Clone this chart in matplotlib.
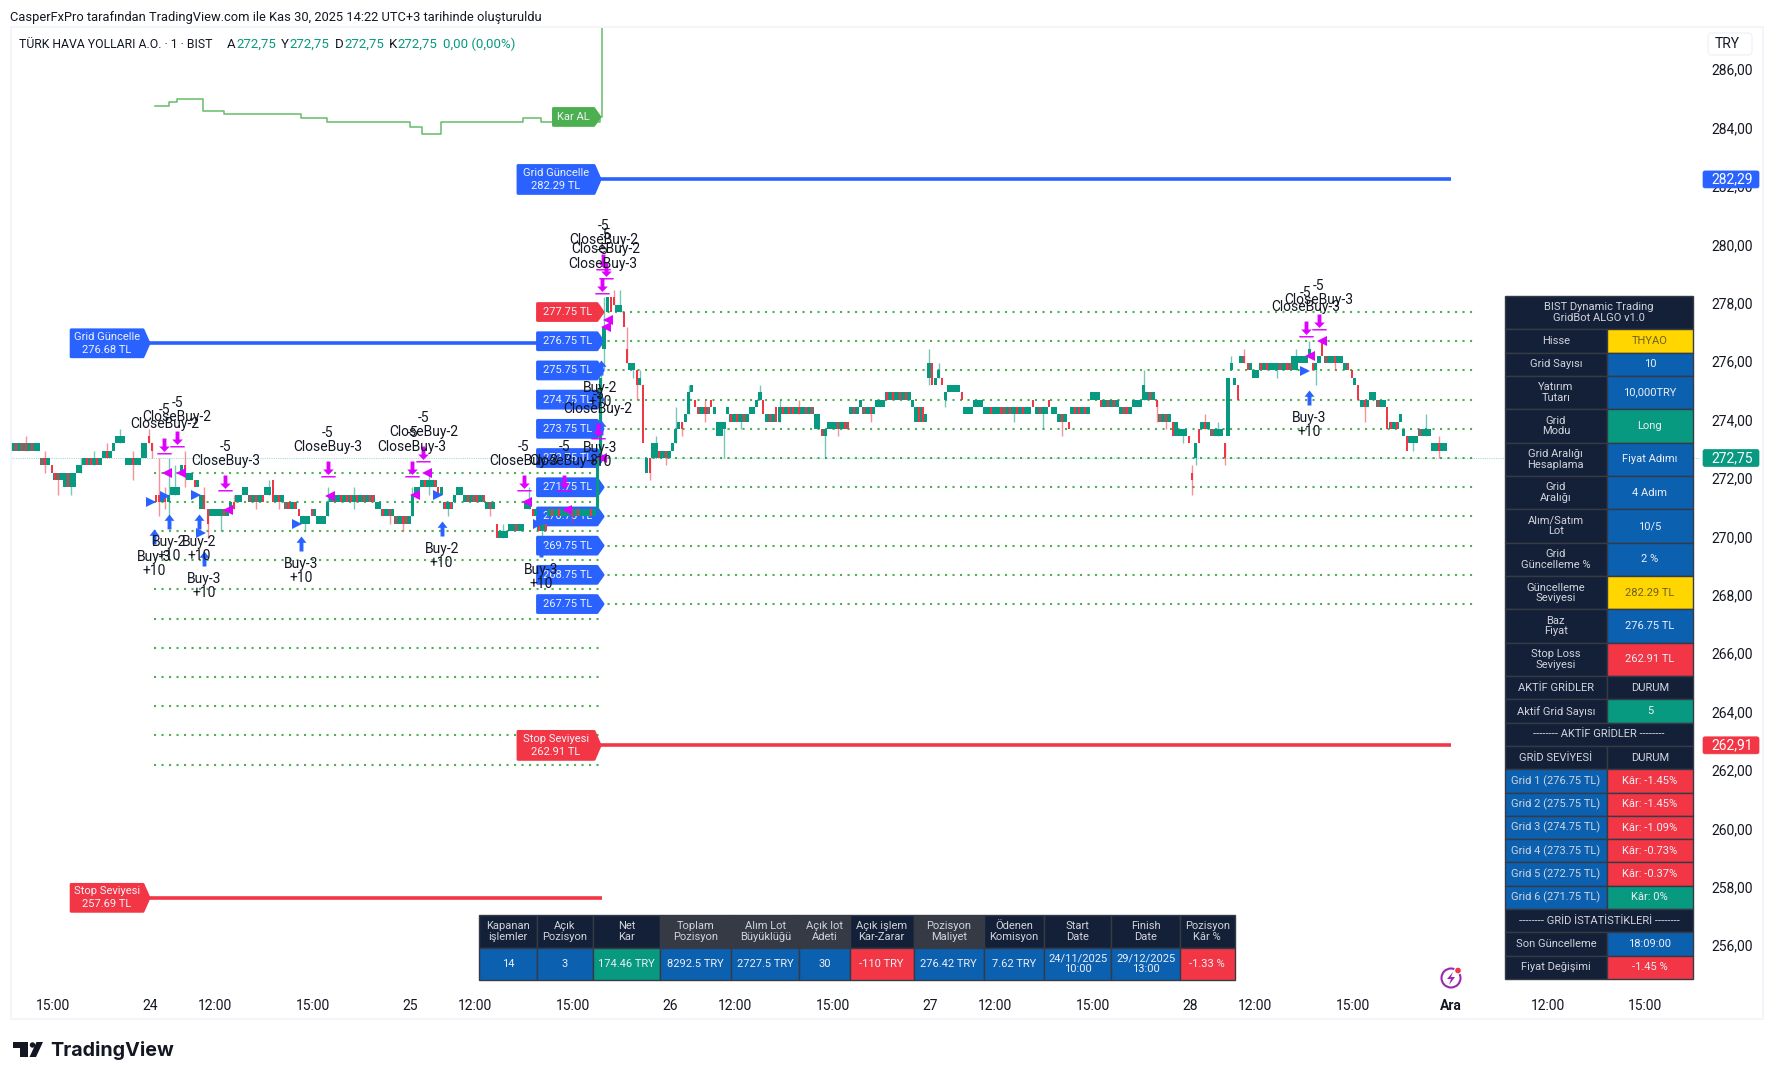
import matplotlib
matplotlib.use("Agg")
import matplotlib.pyplot as plt
import numpy as np
from matplotlib.path import Path
from matplotlib.patches import Polygon, Rectangle, Circle, FancyBboxPatch
from matplotlib.transforms import offset_copy

plt.rcParams['font.family'] = ['Roboto', 'DejaVu Sans']

GREEN = "#089981"
RED = "#F23645"
BLUE = "#2962FF"
MAGENTA = "#E000FF"
LINE_GREEN = "#4CAF50"
NAVY = "#132038"
CELL_BLUE = "#0B60B0"
YELLOW = "#FFD600"
GREY = "#363A45"
TEXT = "#131722"

# candles, as runs of 6 minute bars
run_dirs = ["grgrrgrgg","rrg","r","rrg","grgg","gg","grrgrg","grg","g","ggg",
	"ggrgg","gg","r","r","rr","gr","g","ggg","gr","gg",
	"rg","gr","r","ggggrg","gr","gg","gg","rgrgr","gg","r",
	"grg","rrgr","r","ggg","rg","ggg","g","grgrgrrgrgrgrr","gg","rgrg",
	"rgrrg","g","gg","grggr","rg","rgr","g","gg","grgrrgr","grg",
	"r","ggg","ggrgg","gg","rg","rgr","grgrgggrgrgggrg","g","g","g",
	"gr","r","gg","r","r","gg","r","g","r","gr",
	"gg","rgrg","g","g","gr","g","g","g","r","rgrr",
	"r","g","gg","g","g","rgrgrg","gg","g","g","r",
	"grg","rg","rgrrgrgrgr","gg","rg","gggrgrr","grg","g","rgrg","ggg",
	"rgrgrgrg","g","grr","g","g","r","g","g","r","g",
	"gggg","r","ggg","ggg","ggrg","grrgrgrgrgg","r","grgg","r","gg",
	"grg","r","grrgrg","ggg","rgrgrg","grrg","ggg","g","grg","r",
	"rgrg","rg","ggg","r","r","g","r","grg","rggg","r",
	"g","g","g","r","gr","rg","gg","rgrgggrgrr","gg","ggg",
	"g","rg","g","r","rggrgg","gr","r","g","r","grg",
	"gg","rgg","r","rgr","g","g","r","ggg","rggg","ggrgg"]
run_low = [273.0,272.5,272.25,272.0,271.75,272.25,272.5,272.75,273.0,273.25,
	272.5,272.75,273.25,273.0,271.25,271.25,271.25,271.5,272.25,272.0,
	271.75,271.0,270.5,270.75,271.0,271.25,271.5,271.25,271.5,271.25,
	271.25,271.0,270.75,270.5,270.75,270.5,270.75,271.25,271.0,270.75,
	270.5,270.75,271.5,271.75,271.5,271.0,271.25,271.5,271.25,271.0,
	270.0,270.0,270.25,271.0,270.75,270.25,270.75,271.0,272.75,276.5,
	277.75,278.0,277.75,277.25,276.0,275.75,275.25,275.25,273.25,272.25,
	272.75,272.75,273.0,273.25,273.75,274.0,274.25,275.0,274.5,274.25,
	274.5,274.25,273.5,273.75,274.25,274.0,274.25,274.5,274.75,274.25,
	274.0,274.0,274.25,273.75,273.5,273.75,274.25,274.5,274.25,274.5,
	274.75,274.5,274.0,274.0,275.5,275.25,275.25,275.5,275.25,274.75,
	275.0,274.75,274.25,274.5,274.25,274.25,274.5,274.25,274.5,274.25,
	274.0,273.75,274.25,274.75,274.5,274.25,274.5,274.75,274.75,274.5,
	274.0,273.5,273.5,273.25,272.0,272.75,273.25,273.75,273.5,272.75,
	273.5,275.75,275.25,274.75,276.0,275.75,275.5,275.75,275.75,276.0,
	276.25,275.75,276.0,276.25,276.0,275.75,275.5,275.25,274.75,274.5,
	274.75,274.5,273.75,273.75,274.0,273.5,273.0,273.25,273.5,273.0]
run_high = [273.25,272.75,272.5,272.25,272.25,272.5,272.75,273.0,273.25,273.5,
	272.75,273.25,273.5,273.25,271.5,271.5,271.5,271.75,272.5,272.25,
	272.0,271.5,271.0,271.0,271.25,271.5,271.75,271.5,271.75,272.0,
	271.5,271.25,271.0,270.75,271.0,270.75,271.25,271.5,271.25,271.0,
	270.75,271.5,271.75,272.0,271.75,271.25,271.5,271.75,271.5,271.25,
	270.5,270.25,270.5,271.25,271.0,270.5,271.0,272.75,275.5,277.25,
	278.25,278.25,278.0,277.75,276.5,276.0,275.75,275.5,275.25,272.75,
	273.25,273.0,273.25,273.75,274.0,274.25,275.0,275.25,274.75,274.5,
	274.75,274.5,274.0,274.0,274.5,274.25,274.5,274.75,275.0,274.75,
	274.25,274.5,274.5,274.25,273.75,274.0,274.5,274.75,274.5,274.75,
	275.0,274.75,274.5,274.25,276.0,276.0,275.5,275.75,275.5,275.0,
	275.25,275.0,274.5,274.75,274.5,274.5,274.75,274.5,274.75,274.5,
	274.25,274.0,274.5,275.0,274.75,274.5,274.75,275.25,275.0,274.75,
	274.25,274.0,273.75,273.5,272.25,273.25,273.75,274.0,273.75,273.25,
	275.5,276.0,275.5,275.25,276.25,276.0,275.75,276.0,276.25,276.25,
	276.5,276.0,276.25,276.75,276.25,276.0,275.75,275.5,275.25,274.75,
	275.0,274.75,274.5,274.0,274.25,273.75,273.5,273.5,273.75,273.25]
run_wick_low = [273.0,272.25,272.25,271.5,271.5,272.25,272.5,272.75,273.0,273.25,
	272.0,272.75,273.25,272.75,270.75,271.0,270.75,271.5,271.75,272.0,
	271.75,271.0,270.0,270.25,271.0,271.25,271.5,271.0,271.5,271.25,
	271.0,271.0,270.75,270.25,270.75,270.5,270.75,271.0,271.0,270.5,
	270.25,270.75,271.5,271.5,271.5,270.75,271.25,271.5,271.25,270.75,
	270.0,270.0,270.25,271.0,270.75,270.0,270.5,270.75,272.75,275.75,
	277.75,278.0,277.75,277.25,276.0,275.5,274.75,275.25,273.25,272.0,
	272.75,272.5,273.0,273.25,273.5,274.0,274.25,275.0,274.5,274.0,
	274.5,274.25,273.5,272.75,274.25,273.75,274.25,274.5,274.75,274.25,
	274.0,274.0,274.25,273.75,272.75,273.5,274.25,274.5,274.0,274.5,
	274.75,274.5,274.0,274.0,275.25,275.25,275.25,275.5,275.25,274.5,
	275.0,274.75,274.25,274.5,274.25,274.0,274.5,273.75,274.5,274.25,
	273.5,273.75,274.25,274.75,274.5,274.25,274.5,274.75,274.75,274.0,
	273.75,273.5,273.25,273.25,271.5,272.5,273.25,273.75,273.5,272.5,
	273.5,275.75,275.25,274.75,276.0,275.75,275.5,275.5,275.75,276.0,
	276.25,275.25,276.0,276.25,275.75,275.75,275.5,275.25,274.75,274.0,
	274.75,274.5,273.75,273.75,274.0,273.5,273.0,273.0,273.5,272.75]
run_wick_high = [273.5,273.0,272.5,272.25,272.25,272.75,273.0,273.25,273.25,273.75,
	273.0,273.25,273.75,273.25,272.75,271.75,272.75,272.5,273.0,272.25,
	272.0,271.75,271.0,271.0,271.5,271.5,271.75,271.5,272.0,272.0,
	271.5,271.25,271.0,270.75,271.0,270.75,271.75,271.75,271.25,271.0,
	270.75,271.75,271.75,272.25,271.75,271.25,271.5,271.75,271.5,271.25,
	270.5,270.5,270.5,271.75,271.0,270.5,271.0,272.75,275.75,278.25,
	278.25,278.5,278.5,277.75,277.25,276.0,275.75,275.75,275.25,272.75,
	273.5,273.0,273.25,274.5,274.0,274.25,275.25,275.25,274.75,274.75,
	274.75,274.5,274.0,274.0,274.5,274.25,274.5,274.75,275.25,274.75,
	274.25,274.75,274.75,274.25,273.75,274.0,274.5,274.75,274.5,274.75,
	275.0,274.75,274.5,274.25,276.5,276.0,275.5,276.0,275.5,275.0,
	275.25,275.0,274.5,274.75,274.5,274.5,274.75,274.5,274.75,274.5,
	274.25,274.0,274.5,275.0,274.75,274.5,274.75,275.75,275.0,274.75,
	274.25,274.0,273.75,273.5,272.5,273.25,273.75,274.25,274.0,273.25,
	275.5,276.25,275.5,275.25,276.5,276.0,275.75,276.0,276.5,276.25,
	276.75,276.0,276.25,276.75,276.25,276.0,275.75,275.5,275.25,274.75,
	275.0,274.75,274.5,274.0,274.25,273.75,273.5,273.5,274.25,273.5]

first_bar_hour = -4.24
last_price = 272.75

left_grid_levels = [272.25,271.25,270.25,269.25,268.25,267.25,266.25,265.25,264.25,263.25,262.25]
right_grid_levels = [277.75,276.75,275.75,274.75,273.75,272.75,271.75,270.75,269.75,268.75,267.75]

kar_hours = [0.15,0.58,0.81,1.63,2.28,4.62,5.44,8.0,8.37,8.95,11.47,12.01,13.83,13.9]
kar_levels = [284.79,284.95,285.04,284.62,284.52,284.38,284.26,284.10,283.86,284.26,284.38,284.26,284.43,287.6]

buy_hours = [0.12,0.58,1.49,1.66,4.64,8.96,12.01,13.85,13.85,35.65]
buy_prices = [270.32,270.83,270.83,269.58,270.09,270.58,269.86,276.10,274.04,275.09]
buy_labels = ["Buy-3","Buy-2","Buy-2","Buy-3","Buy-3","Buy-2","Buy-3","Buy-2","Buy-3","Buy-3"]

close_hours = [0.43,0.82,2.31,5.45,8.05,8.40,11.49,12.73,13.78,14.01,13.91,13.94,35.55,35.95]
close_prices = [272.89,273.14,271.63,272.09,272.09,272.62,271.63,271.61,273.40,278.87,278.36,279.2,276.90,277.13]
close_labels = ["CloseBuy-2","CloseBuy-2","CloseBuy-3","CloseBuy-3","CloseBuy-3","CloseBuy-2","CloseBuy-3",
	"CloseBuy-3","CloseBuy-2","CloseBuy-2","CloseBuy-3","CloseBuy-2","CloseBuy-3","CloseBuy-3"]

entry_hours = [0.03,0.46,1.39,1.55,4.52,8.84,11.92,13.80,35.52]
entry_prices = [271.23,271.46,271.48,270.20,270.49,271.48,270.49,276.75,275.73]
exit_hours = [0.51,0.94,2.40,5.54,8.15,8.51,11.58,12.83,13.89,14.09,14.02,35.68,36.04]
exit_prices = [272.24,272.24,270.98,271.46,271.48,272.24,271.23,270.98,272.75,277.49,277.24,276.24,276.75]

tick_hours = [-3,0,2,5,8,10,13,16,18,21,24,26,29,32,34,37,40,43,46]
tick_labels = ["15:00","24","12:00","15:00","25","12:00","15:00","26","12:00","15:00",
	"27","12:00","15:00","28","12:00","15:00","Ara","12:00","15:00"]
price_ticks = [256,258,260,262,264,266,268,270,272,274,276,278,280,282,284,286]

side_labels = ["BIST Dynamic Trading\nGridBot ALGO v1.0","Hisse","Grid Sayısı","Yatırım\nTutarı","Grid\nModu",
	"Grid Aralığı\nHesaplama","Grid\nAralığı","Alım/Satım\nLot","Grid\nGüncelleme %","Güncelleme\nSeviyesi",
	"Baz\nFiyat","Stop Loss\nSeviyesi","AKTİF GRİDLER","Aktif Grid Sayısı","-------- AKTİF GRİDLER --------",
	"GRİD SEVİYESİ","Grid 1 (276.75 TL)","Grid 2 (275.75 TL)","Grid 3 (274.75 TL)","Grid 4 (273.75 TL)",
	"Grid 5 (272.75 TL)","Grid 6 (271.75 TL)","-------- GRİD İSTATİSTİKLERİ --------","Son Güncelleme","Fiyat Değişimi"]
side_values = ["","THYAO","10","10,000TRY","Long","Fiyat Adımı","4 Adım","10/5","2 %","282.29 TL",
	"276.75 TL","262.91 TL","DURUM","5","","DURUM","Kâr: -1.45%","Kâr: -1.45%","Kâr: -1.09%","Kâr: -0.73%",
	"Kâr: -0.37%","Kâr: 0%","","18:09:00","-1.45 %"]
side_colors = [NAVY,YELLOW,CELL_BLUE,CELL_BLUE,GREEN,CELL_BLUE,CELL_BLUE,CELL_BLUE,CELL_BLUE,YELLOW,
	CELL_BLUE,RED,NAVY,GREEN,NAVY,NAVY,RED,RED,RED,RED,RED,GREEN,NAVY,CELL_BLUE,RED]

stat_headers = ["Kapanan\nişlemler","Açık\nPozisyon","Net\nKar","Toplam\nPozisyon","Alım Lot\nBüyüklüğü","Açık lot\nAdeti",
	"Açık işlem\nKar-Zarar","Pozisyon\nMaliyet","Ödenen\nKomisyon","Start\nDate","Finish\nDate","Pozisyon\nKâr %"]
stat_values = ["14","3","174.46 TRY","8292.5 TRY","2727.5 TRY","30","-110 TRY","276.42 TRY","7.62 TRY",
	"24/11/2025\n10:00","29/12/2025\n13:00","-1.33 %"]
stat_header_colors = [NAVY,NAVY,NAVY,GREY,GREY,GREY,NAVY,GREY,NAVY,NAVY,NAVY,NAVY]
stat_colors = [CELL_BLUE,CELL_BLUE,GREEN,CELL_BLUE,CELL_BLUE,CELL_BLUE,RED,CELL_BLUE,CELL_BLUE,CELL_BLUE,CELL_BLUE,RED]
stat_edges = [479,536.7,592.9,660.5,731.2,799.4,849.6,913.8,983.9,1044.1,1111.3,1180,1234.7]

fig = plt.figure(figsize=(17.74, 10.8), dpi=100, facecolor="white")
ax = fig.add_axes([11/1774, 1-991/1080, 1689/1774, 963/1080])
ax.set_xlim(-4.289, 47.68)
ax.set_ylim(254.50, 287.476)
for s in ax.spines.values():
	s.set_visible(False)
ax.yaxis.tick_right()
ax.set_yticks(price_ticks)
ax.set_yticklabels(["%d,00" % p for p in price_ticks])
ax.set_xticks(tick_hours)
ax.set_xticklabels(tick_labels)
ax.tick_params(axis="both", length=0, labelsize=10, colors=TEXT)
ax.tick_params(axis="x", pad=5.5)
ax.tick_params(axis="y", pad=8)
for t in ax.get_xticklabels():
	if t.get_text() == "Ara":
		t.set_fontweight("bold")
for t in ax.get_yticklabels():
	t.set_transform(offset_copy(t.get_transform(), fig=fig, x=0, y=2, units="dots"))

# grids
ax.hlines(left_grid_levels, 0.11, 13.83, colors=LINE_GREEN, linewidth=1.5, linestyles=(0, (1, 2.6)), zorder=1)
ax.hlines(right_grid_levels, 13.84, 40.81, colors=LINE_GREEN, linewidth=1.5, linestyles=(0, (1, 2.6)), zorder=1)
ax.axhline(last_price, color=GREEN, linewidth=0.8, linestyle=(0, (1, 1)), alpha=0.35, zorder=1)

def tag(left, tip, price, height, text, color, size=8):
	body = tip - 6/32.5
	half = height/2/29.2
	poly = Polygon([(left, price-half), (left, price+half), (body, price+half), (tip, price), (body, price-half)],
		closed=True, facecolor=color, edgecolor=color, linewidth=2, joinstyle="round", zorder=2)
	ax.add_patch(poly)
	ax.text((left+body)/2, price, text, color="#F0F3FA", fontsize=size, ha="center", va="center",
		linespacing=1.35, zorder=2.5)

# big level lines
ax.hlines(276.68, -0.04, 13.9, colors=BLUE, linewidth=2.6, zorder=1.5)
ax.hlines(257.69, -0.04, 13.9, colors=RED, linewidth=2.6, zorder=1.5)
ax.hlines(282.29, 13.84, 40.02, colors=BLUE, linewidth=2.6, zorder=1.5)
ax.hlines(262.91, 13.84, 40.02, colors=RED, linewidth=2.6, zorder=1.5)
tag(-2.44, -0.04, 276.68, 27, "Grid Güncelle\n276.68 TL", BLUE)
tag(-2.44, -0.04, 257.69, 27, "Stop Seviyesi\n257.69 TL", RED)
tag(11.31, 13.84, 282.29, 28, "Grid Güncelle\n282.29 TL", BLUE)
tag(11.31, 13.84, 262.91, 28, "Stop Seviyesi\n262.91 TL", RED)
tag(12.4, 13.83, 284.43, 17, "Kar AL", LINE_GREEN)
for i, lvl in enumerate(right_grid_levels):
	tag(11.91, 13.93, lvl, 17, "%.2f TL" % lvl, RED if i == 0 else BLUE)

ax.plot(kar_hours, kar_levels, drawstyle="steps-post", color=LINE_GREEN, linewidth=1.1, alpha=0.85, zorder=2.2)

# candles
bar_low, bar_high, bar_dirs, bar_block = [], [], [], []
wick_x, wick_low, wick_high, wick_dirs = [], [], [], []
for dirs, lo, hi, wl, wh in zip(run_dirs, run_low, run_high, run_wick_low, run_wick_high):
	start = len(bar_low)
	for d in dirs:
		bar_low.append(lo)
		bar_high.append(hi)
		bar_dirs.append(d)
		bar_block.append(len(dirs) >= 3)
	if wl < lo or wh > hi:
		wick_x.append(first_bar_hour + 0.1*(start + len(dirs)//2))
		wick_low.append(wl)
		wick_high.append(wh)
		wick_dirs.append(dirs[len(dirs)//2])
bar_hours = first_bar_hour + 0.1*np.arange(len(bar_low))
bar_low = np.array(bar_low)
bar_high = np.array(bar_high)
bar_block = np.array(bar_block)
is_up = np.array([d == "g" for d in bar_dirs])
wick_colors = [GREEN if d == "g" else RED for d in wick_dirs]
ax.vlines(wick_x, wick_low, wick_high, colors=wick_colors, linewidth=1.0, alpha=0.55, zorder=3)
# inside a flat block the red bars are thin streaks over the green
ax.bar(bar_hours[bar_block], (bar_high-bar_low)[bar_block], 0.1, bottom=bar_low[bar_block], color=GREEN, linewidth=0, zorder=3.05)
ax.bar(bar_hours[is_up], (bar_high-bar_low)[is_up], 0.1, bottom=bar_low[is_up], color=GREEN, linewidth=0, zorder=3.1)
ax.bar(bar_hours[~is_up], (bar_high-bar_low)[~is_up], 0.06, bottom=bar_low[~is_up], color=RED, linewidth=0, zorder=3.1)

# signals
up_arrow = Path([(0,0),(-0.33,-0.42),(-0.13,-0.42),(-0.13,-1),(0.13,-1),(0.13,-0.42),(0.33,-0.42),(0,0)], closed=True)
down_arrow = Path(np.array([(-0.45,0),(-0.45,0.09),(0.45,0.09),(0.45,0),(-0.45,0),
	(0,0.16),(-0.33,0.5),(-0.12,0.5),(-0.12,1),(0.12,1),(0.12,0.5),(0.33,0.5),(0,0.16)]),
	[1,2,2,2,79,1,2,2,2,2,2,2,79])
ax.plot(buy_hours, buy_prices, linestyle="none", marker=up_arrow, markersize=21.6, color=BLUE, markeredgewidth=0, zorder=5)
ax.plot(close_hours, close_prices, linestyle="none", marker=down_arrow, markersize=23, color=MAGENTA, markeredgewidth=0, zorder=5)
ax.plot(entry_hours, entry_prices, linestyle="none", marker=">", markersize=7, color=BLUE, markeredgewidth=0, zorder=5)
ax.plot(exit_hours, exit_prices, linestyle="none", marker="<", markersize=7, color=MAGENTA, markeredgewidth=0, zorder=5)
for h, p, lab in zip(buy_hours, buy_prices, buy_labels):
	ax.annotate(lab, (h, p), xytext=(0, -28), textcoords="offset pixels", ha="center", va="center", fontsize=10, color=TEXT, zorder=6)
	ax.annotate("+10", (h, p), xytext=(0, -42), textcoords="offset pixels", ha="center", va="center", fontsize=10, color=TEXT, zorder=6)
for h, p, lab in zip(close_hours, close_prices, close_labels):
	ax.annotate(lab, (h, p), xytext=(0, 30), textcoords="offset pixels", ha="center", va="center", fontsize=10, color=TEXT, zorder=6)
	ax.annotate("-5", (h, p), xytext=(0, 44), textcoords="offset pixels", ha="center", va="center", fontsize=10, color=TEXT, zorder=6)

# pixel layer for page furniture and the two tables
over = fig.add_axes([0, 0, 1, 1], facecolor="none")
over.set_xlim(0, 1774)
over.set_ylim(1080, 0)
over.axis("off")

over.add_patch(Rectangle((11, 27), 1752, 992, facecolor="none", edgecolor="#F0F3FA", linewidth=1.2))
over.text(10, 17, "CasperFxPro tarafından TradingView.com ile Kas 30, 2025 14:22 UTC+3 tarihinde oluşturuldu",
	fontsize=9.25, color=TEXT, ha="left", va="center")

legend_x = [19,226.5,236,281,289,335,344,388.6,397.5,443]
legend_txt = ["TÜRK HAVA YOLLARI A.O. · 1 · BIST","A","272,75","Y","272,75","D","272,75","K","272,75","0,00 (0,00%)"]
legend_col = [TEXT,TEXT,GREEN,TEXT,GREEN,TEXT,GREEN,TEXT,GREEN,GREEN]
legend_size = [8.8,9.5,9.5,9.5,9.5,9.5,9.5,9.5,9.5,9.5]
for x, t, c, s in zip(legend_x, legend_txt, legend_col, legend_size):
	over.text(x, 44, t, fontsize=s, color=c, ha="left", va="center")

over.add_patch(FancyBboxPatch((1708, 33), 44, 22, boxstyle="round,pad=0,rounding_size=4", facecolor="white", edgecolor="#F0F3FA", linewidth=1))
over.text(1727, 44, "TRY", fontsize=10, color=TEXT, ha="center", va="center")

def price_badge(price, color):
	y = 304.7 + (278-price)*29.2
	over.add_patch(FancyBboxPatch((1703, y-8.5), 56, 17, boxstyle="round,pad=0,rounding_size=2", facecolor=color, edgecolor=color, linewidth=0.5))
	over.text(1732, y, ("%.2f" % price).replace(".", ","), fontsize=10, color="white", ha="center", va="center")

price_badge(282.29, BLUE)
price_badge(272.75, GREEN)
price_badge(262.91, RED)

def cell(x0, y0, x1, y1, color, text, size=8, tcolor="#D1D4DC"):
	over.add_patch(Rectangle((x0, y0), x1-x0, y1-y0, facecolor=color, edgecolor=GREY, linewidth=1))
	over.text((x0+x1)/2, (y0+y1)/2, text, fontsize=size, color=tcolor, ha="center", va="center", linespacing=1.05)

# side table
y = 296
for lab, val, col in zip(side_labels, side_values, side_colors):
	h = 33.35 if "\n" in lab else 23.3
	if val == "":
		cell(1505, y, 1693, y+h, NAVY, lab)
	else:
		lab_col = CELL_BLUE if lab.startswith("Grid ") and "(" in lab else NAVY
		cell(1505, y, 1606.7, y+h, lab_col, lab)
		if col == YELLOW:
			cell(1606.7, y, 1693, y+h, col, val, tcolor="#6E6020")
		elif col == NAVY:
			cell(1606.7, y, 1693, y+h, col, val)
		else:
			cell(1606.7, y, 1693, y+h, col, val, tcolor="#EDEFF5")
	y += h

# bottom table
for i in range(len(stat_headers)):
	cell(stat_edges[i], 915, stat_edges[i+1], 948, stat_header_colors[i], stat_headers[i])
	cell(stat_edges[i], 948, stat_edges[i+1], 980, stat_colors[i], stat_values[i], tcolor="#EDEFF5")

# flash icon next to Ara
over.add_patch(Circle((1451, 978), 9.5, facecolor="none", edgecolor="#9C27B0", linewidth=1.5))
over.add_patch(Polygon([(1453, 972), (1447, 979), (1451, 979), (1449, 985), (1455, 977), (1451, 977)], closed=True, facecolor="#9C27B0", edgecolor="none"))
over.add_patch(Circle((1458, 970.5), 3.4, facecolor=RED, edgecolor="white", linewidth=0.8))

# logo
over.add_patch(Polygon([(13, 1042), (28, 1042), (28, 1057), (20.5, 1057), (20.5, 1048), (13, 1048)], closed=True, facecolor=TEXT, edgecolor="none"))
over.add_patch(Circle((32.5, 1045), 2.7, facecolor=TEXT, edgecolor="none"))
over.add_patch(Polygon([(36.5, 1042), (43, 1042), (36, 1057), (29.5, 1057)], closed=True, facecolor=TEXT, edgecolor="none"))
over.text(50, 1050, "TradingView", fontsize=14.2, fontweight="bold", color=TEXT, ha="left", va="center", family="Inter")

fig.savefig("out.png", dpi=100)
